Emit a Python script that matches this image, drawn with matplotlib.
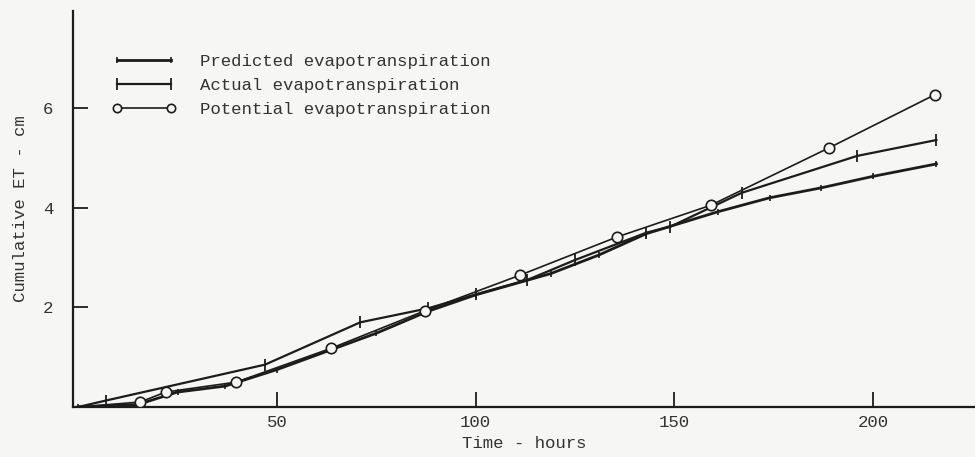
import matplotlib
matplotlib.use("Agg")
import matplotlib.pyplot as plt
from matplotlib.lines import Line2D

# ---- data ----
pred_x = [0, 15, 25, 37, 50, 75, 88, 100, 119, 131, 143, 161, 174, 187, 200, 216]
pred_y = [0, 0.05, 0.30, 0.42, 0.75, 1.48, 1.92, 2.25, 2.68, 3.05, 3.48, 3.92, 4.20, 4.40, 4.63, 4.88]

act_x = [0, 7, 47, 71, 88, 100, 113, 125, 143, 149, 167, 196, 216]
act_y = [0, 0.13, 0.85, 1.70, 1.98, 2.26, 2.55, 2.95, 3.50, 3.62, 4.30, 5.04, 5.36]

pot_x = [0, 15.6, 22, 39.8, 63.7, 87.2, 111.3, 135.5, 159.2, 188.9, 215.6]
pot_y = [0, 0.10, 0.30, 0.50, 1.18, 1.93, 2.65, 3.41, 4.05, 5.20, 6.27]

x_ticks = [50, 100, 150, 200]
y_ticks = [2, 4, 6]
labels = ["Predicted evapotranspiration",
          "Actual evapotranspiration",
          "Potential evapotranspiration"]

ink = "#1c1c1c"
bg = "#f6f6f4"
font = "Liberation Mono"
fs = 12.55

fig = plt.figure(figsize=(9.75, 4.57), dpi=100, facecolor=bg)
ax = fig.add_axes([73/975, 50/457, (975-73)/975, (407-11)/457])
ax.set_facecolor(bg)

ax.plot(pred_x, pred_y, color=ink, lw=2.0, marker='|', ms=5, mew=1.2)
ax.plot(act_x[1:], act_y[1:], color=ink, lw=1.6, marker='|', ms=9, mew=1.3, linestyle='none')
ax.plot(act_x, act_y, color=ink, lw=1.6)
ax.plot(pot_x[1:], pot_y[1:], color=ink, lw=1.2, marker='o', ms=7.5, mfc=bg, mec=ink, mew=1.2, linestyle='none', zorder=4)
ax.plot(pot_x, pot_y, color=ink, lw=1.2, zorder=3)

ax.set_xlim(-1.3, 225.7)
ax.set_ylim(0, 7.95)
for s in ["top", "right"]:
    ax.spines[s].set_visible(False)
for s in ["left", "bottom"]:
    ax.spines[s].set_color(ink)
    ax.spines[s].set_linewidth(1.6)

ax.set_xticks(x_ticks)
ax.set_yticks(y_ticks)
ax.tick_params(axis='both', direction='in', length=11, width=1.3, color=ink,
               labelcolor="#333333", labelsize=fs)
ax.tick_params(axis='y', pad=14)
ax.tick_params(axis='x', pad=6)
for lab in ax.get_xticklabels() + ax.get_yticklabels():
    lab.set_family(font)

ax.set_xlabel("Time - hours", family=font, fontsize=fs, color="#333333", labelpad=4)
ax.set_ylabel("Cumulative ET - cm", family=font, fontsize=fs, color="#333333", labelpad=11)

handles = [
    Line2D([0], [0], color=ink, lw=2.0, marker='|', ms=5, mew=1.2),
    Line2D([0], [0], color=ink, lw=1.6, marker='|', ms=9, mew=1.3),
    Line2D([0], [0], color=ink, lw=1.2, marker='o', ms=6, mfc=bg, mec=ink, mew=1.2),
]
leg = ax.legend(handles, labels, loc='upper left', bbox_to_anchor=(0.035, 0.91),
                frameon=False, numpoints=2, handlelength=3.7, handletextpad=1.35,
                labelspacing=0.5, borderaxespad=0,
                prop={'family': font, 'size': fs})
for t in leg.get_texts():
    t.set_color("#333333")

fig.savefig("out.png", dpi=100, facecolor=bg)
